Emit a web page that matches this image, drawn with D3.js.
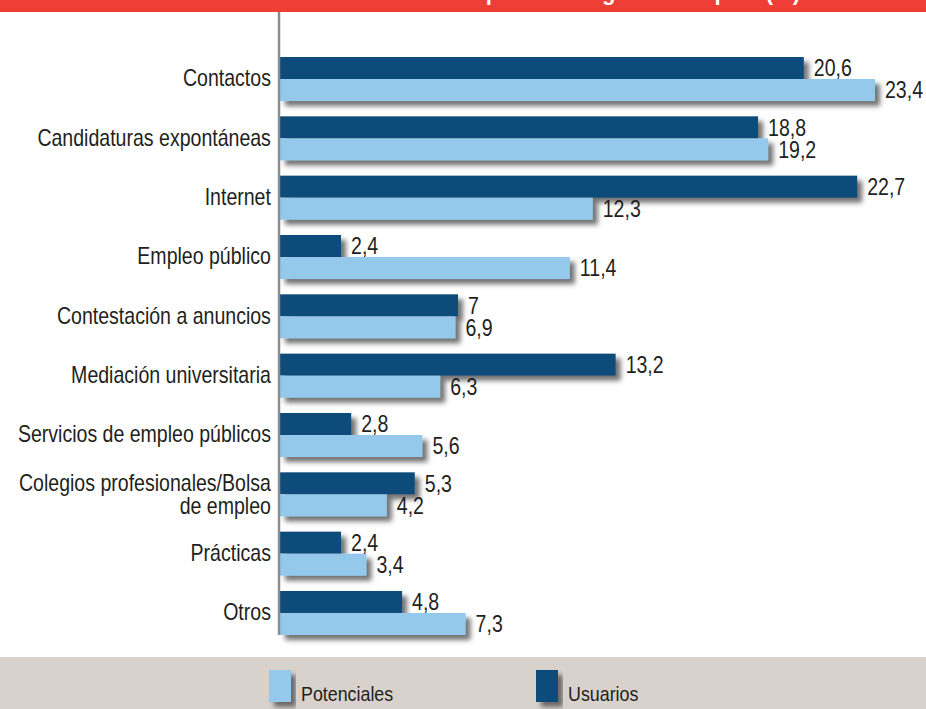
<!DOCTYPE html>
<html>
<head>
<meta charset="utf-8">
<script src="https://cdn.jsdelivr.net/npm/d3@7"></script>
<style>
  html, body { margin: 0; padding: 0; background: #fff; }
  svg { display: block; }
</style>
</head>
<body>
<div id="chart"></div>
<script>
// data
const categories = [
  'Contactos',
  'Candidaturas expontáneas',
  'Internet',
  'Empleo público',
  'Contestación a anuncios',
  'Mediación universitaria',
  'Servicios de empleo públicos',
  'Colegios profesionales/Bolsa de empleo',
  'Prácticas',
  'Otros'
];
const usuarios    = [20.6, 18.8, 22.7, 2.4, 7, 13.2, 2.8, 5.3, 2.4, 4.8];
const potenciales = [23.4, 19.2, 12.3, 11.4, 6.9, 6.3, 5.6, 4.2, 3.4, 7.3];
const seriesNames = ['Usuarios', 'Potenciales'];
const legendNames = ['Potenciales', 'Usuarios'];
const title = 'Canales utilizados para conseguir un empleo (%)';

const dims = { width: 926, height: 709 };
const FONT = '"Liberation Sans", Arial, sans-serif';
const NARROW = 0.85;   // condensed look, no narrow font installed
const colors = { Usuarios: '#114b7a', Potenciales: '#94c9ec' };

const svg = d3.select('#chart')
  .append('svg')
  .attr('width', dims.width)
  .attr('height', dims.height)
  .style('font-family', FONT);

// squeeze a text horizontally around its anchor point
const squeeze = (sel, x, y) => sel
  .attr('transform', (d, i, n) => `translate(${typeof x === 'function' ? x(d) : x}, ${typeof y === 'function' ? y(d) : y}) scale(${NARROW}, 1)`);

// drop shadow used under bars and legend swatches
const defs = svg.append('defs');
const shadow = defs.append('filter')
  .attr('id', 'shadow')
  .attr('x', '-10%').attr('y', '-30%')
  .attr('width', '130%').attr('height', '180%');
shadow.append('feDropShadow')
  .attr('dx', 5).attr('dy', 5)
  .attr('stdDeviation', 2.6)
  .attr('flood-color', '#444')
  .attr('flood-opacity', 0.75);

// red title banner (title text mostly cropped off the top)
svg.append('rect')
  .attr('x', 0).attr('y', 0)
  .attr('width', dims.width).attr('height', 12)
  .attr('fill', '#ef3e35');
svg.append('text')
  .attr('x', 800).attr('y', 0)
  .attr('text-anchor', 'end')
  .attr('fill', '#fff')
  .style('font-weight', 'bold')
  .style('font-size', '22px')
  .text(title);

// legend band
svg.append('rect')
  .attr('x', 0).attr('y', 657)
  .attr('width', dims.width).attr('height', dims.height - 657)
  .attr('fill', '#d9d1cc');

// scales
const x = d3.scaleLinear()
  .domain([0, 23.4])
  .range([280, 875]);

const y = d3.scaleBand()
  .domain(categories)
  .range([57, 635])
  .paddingInner(0.258)
  .paddingOuter(0);

const ySub = d3.scaleBand()
  .domain(seriesNames)
  .range([0, y.bandwidth()]);

const fmt = v => String(v).replace('.', ',');

const rows = categories.map((c, i) => ({
  category: c,
  values: [
    { key: 'Usuarios', value: usuarios[i] },
    { key: 'Potenciales', value: potenciales[i] }
  ]
}));

// bars
const groups = svg.append('g')
  .selectAll('g.group')
  .data(rows)
  .enter()
  .append('g')
  .attr('class', 'group')
  .attr('transform', d => `translate(0, ${y(d.category)})`);

groups.append('g')
  .attr('filter', 'url(#shadow)')
  .selectAll('rect')
  .data(d => d.values)
  .enter()
  .append('rect')
  .attr('x', x(0))
  .attr('y', d => ySub(d.key))
  .attr('width', d => x(d.value) - x(0))
  .attr('height', ySub.bandwidth())
  .attr('fill', d => colors[d.key]);

groups.selectAll('text.value')
  .data(d => d.values)
  .enter()
  .append('text')
  .attr('class', 'value')
  .attr('dy', '0.36em')
  .attr('fill', '#231f20')
  .style('font-size', '23px')
  .text(d => fmt(d.value))
  .call(squeeze, d => x(d.value) + 10, d => ySub(d.key) + ySub.bandwidth() / 2);

// vertical axis rule
svg.append('line')
  .attr('x1', x(0) - 1).attr('x2', x(0) - 1)
  .attr('y1', 12).attr('y2', y.range()[1])
  .attr('stroke', '#8c8c8c')
  .attr('stroke-width', 2.5);

// category labels
const yAxis = svg.append('g')
  .attr('transform', `translate(${x(0) - 4}, 0)`)
  .call(d3.axisLeft(y).tickSize(0).tickPadding(6));
yAxis.select('.domain').remove();
yAxis.selectAll('text')
  .attr('fill', '#231f20')
  .style('font-family', FONT)
  .style('font-size', '23px')
  .attr('transform', `scale(${NARROW}, 1)`)
  .each(function (d) {
    const t = d3.select(this);
    if (d.indexOf('/Bolsa') > -1) {
      const parts = ['Colegios profesionales/Bolsa', 'de empleo'];
      const xx = t.attr('x');
      t.text(null).attr('dy', null);
      t.selectAll('tspan')
        .data(parts)
        .enter()
        .append('tspan')
        .attr('x', xx)
        .attr('dy', (s, i) => i === 0 ? '-0.15em' : '1.0em')
        .text(s => s);
    }
  });

// legend
const legend = svg.append('g');
const legendX = d3.scalePoint()
  .domain(legendNames)
  .range([269, 536]);

const items = legend.selectAll('g')
  .data(legendNames)
  .enter()
  .append('g')
  .attr('transform', d => `translate(${legendX(d)}, 670)`);

items.append('rect')
  .attr('width', 22)
  .attr('height', 32)
  .attr('fill', d => colors[d])
  .attr('filter', 'url(#shadow)');

items.append('text')
  .attr('fill', '#231f20')
  .style('font-size', '21px')
  .text(d => d)
  .call(squeeze, 32, 31);
</script>
</body>
</html>
